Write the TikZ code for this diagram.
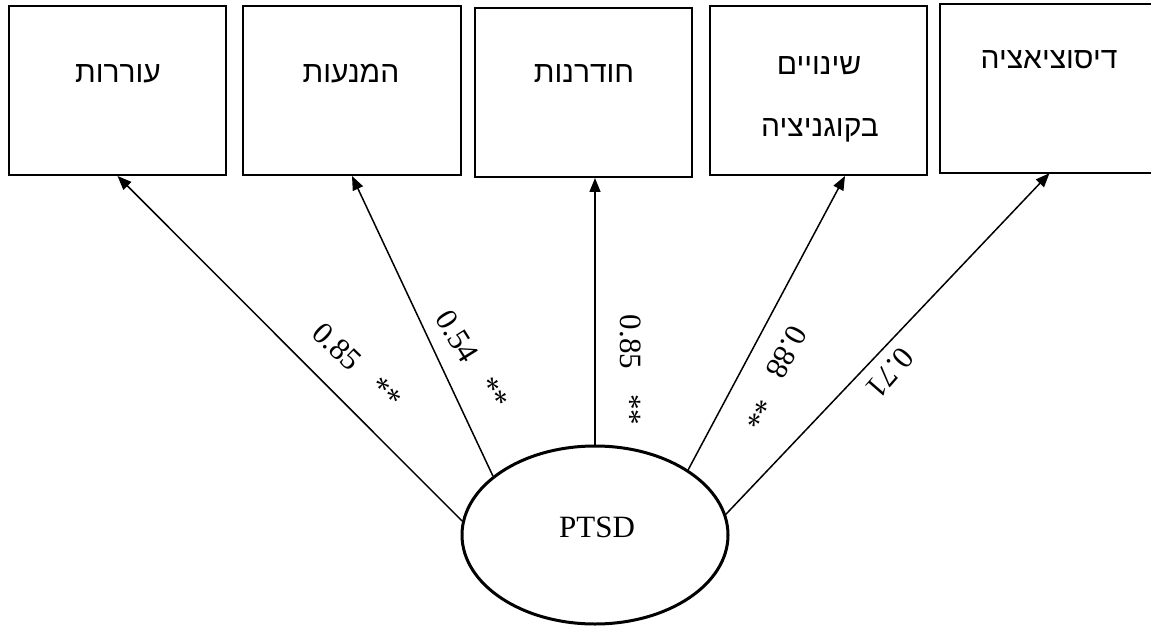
\documentclass[tikz,border=0pt]{standalone}
\usepackage{fontspec}
\setmainfont{Liberation Serif}
\newfontfamily\hebfont[Script=Hebrew]{Liberation Sans}
\TeXXeTstate=1
\usetikzlibrary{shapes.geometric,arrows.meta,calc}
\begin{document}
\begin{tikzpicture}[x=1pt,y=-1pt,
  box/.style={draw,line width=2pt,inner sep=0pt,minimum height=169pt},
  openbox/.style={inner sep=0pt,minimum height=169pt},
  heb/.style={inner sep=0pt,font=\hebfont\fontsize{30}{32}\selectfont},
  lab/.style={inner sep=0pt,font=\fontsize{31}{34}\selectfont},
  conn/.style={line width=1.5pt,-{Triangle[length=14pt,width=11pt]}},
  lat/.style={draw,ellipse,line width=3pt,inner sep=0pt,minimum width=266pt,minimum height=178pt}]
\useasboundingbox (0,0) rectangle (1151,631);
% boxes
\node[box,minimum width=217pt] (b1) at (117.5,90.5) {};
\node[box,minimum width=218pt] (b2) at (352,90.5) {};
\node[box,minimum width=217pt] (b3) at (583.5,92.5) {};
\node[box,minimum width=217pt] (b4) at (818.5,90.5) {};
\node[openbox,minimum width=211pt] (b5) at (1045.5,88.5) {};
\draw[line width=2pt] (b5.north east) -- (b5.north west) -- (b5.south west) -- (b5.south east);
% box texts
\node[heb] (t1) at (118,74) {\beginR עוררות\endR};
\node[heb] (t2) at (351,74) {\beginR המנעות\endR};
\node[heb] (t3) at (584,74) {\beginR חודרנות\endR};
\node[heb] (t4a) at (819,66) {\beginR שינויים\endR};
\node[heb] (t4b) at (820,130) {\beginR בקוגניציה\endR};
\node[heb] (t5) at (1049,60) {\beginR דיסוציאציה\endR};
% latent variable
\node[lat] (ell) at (595,535) {};
\node[lab] (ptsd) at (597,527) {PTSD};
% connectors
\draw[conn] (ell.174) -- (b1.south);
\draw[conn] (ell.150) -- (b2.south);
\draw[conn] (ell.north) -- (ell.north |- b3.south);
\draw[conn] (ell.35) -- ($(b4.south)+(26.5,0)$);
\draw[conn] (ell.9) -- ($(b5.south)+(4,0)$);
% loadings
\node[lab,rotate=-44] (l1) at (357,366) {0.85\hspace{0.8em}**};
\node[lab,rotate=-58] (l2) at (472,360) {0.54\hspace{0.8em}**};
\node[lab,rotate=-90] (l3) at (631,370) {0.85\hspace{0.8em}**};
\node[lab,rotate=-119] (l4) at (773,377) {0.88\hspace{0.8em}**};
\node[lab,rotate=-131] (l5) at (890,373) {0.71};
\end{tikzpicture}
\end{document}
